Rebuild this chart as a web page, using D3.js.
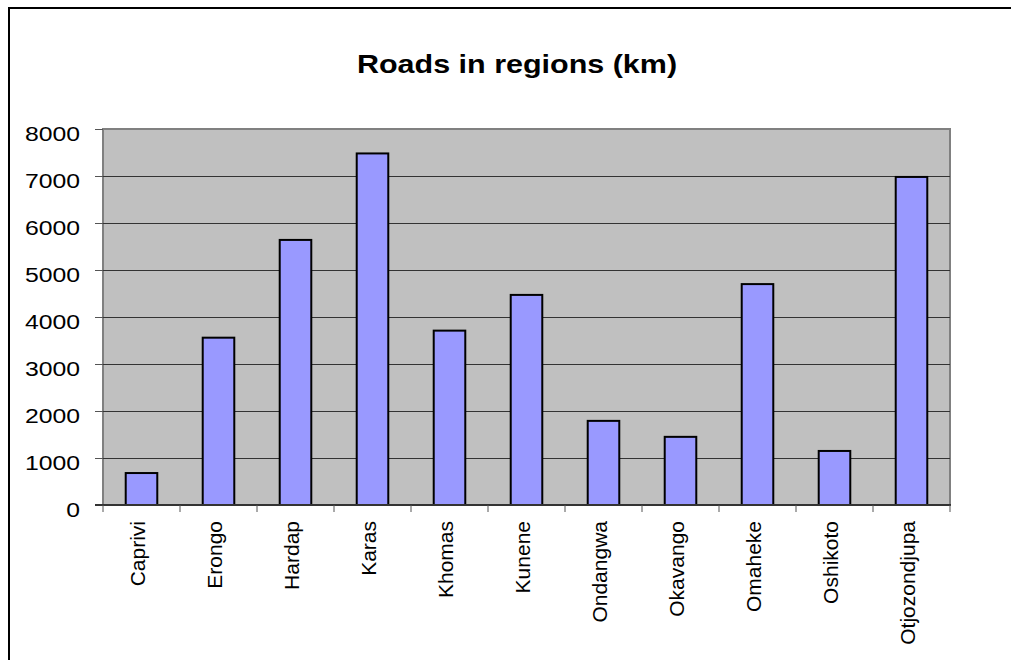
<!DOCTYPE html>
<html lang="en">
<head>
    <meta charset="UTF-8">
    <title>Roads in regions</title>
    <script src="https://d3js.org/d3.v7.min.js"></script>
    <style>
        body { margin: 0; background: #fff; }
        text { font-family: "Liberation Sans", Arial, sans-serif; }
    </style>
</head>
<body>
    <div id="chart"></div>
    <script>
        var regions = ['Caprivi', 'Erongo', 'Hardap', 'Karas', 'Khomas', 'Kunene',
                       'Ondangwa', 'Okavango', 'Omaheke', 'Oshikoto', 'Otjozondjupa'];
        var roadsKm = [680, 3560, 5640, 7480, 3710, 4470, 1790, 1450, 4700, 1150, 6980];
        var yTicks = [0, 1000, 2000, 3000, 4000, 5000, 6000, 7000, 8000];

        var width = 1011,
            height = 660;
        var plot = {left: 103, right: 950, top: 129, bottom: 505};
        var stretch = 1.18; // horizontal text in the picture is a little wider than normal

        var svg = d3.select('#chart')
            .append('svg')
            .attr('width', width)
            .attr('height', height);

        // outer frame (runs off the right and bottom)
        svg.append('rect')
            .attr('x', 9).attr('y', 8)
            .attr('width', 1200).attr('height', 800)
            .attr('fill', 'none')
            .attr('stroke', '#000')
            .attr('stroke-width', 2);

        svg.append('text')
            .attr('transform', 'translate(517,73) scale(1.22,1)')
            .attr('text-anchor', 'middle')
            .style('font-size', '25px')
            .style('font-weight', 'bold')
            .text('Roads in regions (km)');

        var x = d3.scaleBand()
            .domain(regions)
            .range([plot.left, plot.right])
            .padding(0);
        var y = d3.scaleLinear()
            .domain([0, 8000])
            .range([plot.bottom, plot.top]);

        // plot background
        svg.append('rect')
            .attr('x', plot.left).attr('y', plot.top)
            .attr('width', plot.right - plot.left)
            .attr('height', plot.bottom - plot.top)
            .attr('fill', '#c0c0c0')
            .attr('stroke', '#808080')
            .attr('stroke-width', 2);

        // gridlines
        svg.append('g')
            .selectAll('line')
            .data(yTicks.filter(d => d > 0 && d < 8000))
            .enter()
            .append('line')
            .attr('x1', plot.left).attr('x2', plot.right)
            .attr('y1', d => y(d) + 0.5).attr('y2', d => y(d) + 0.5)
            .attr('stroke', '#333')
            .attr('stroke-width', 1);

        // y ticks + labels
        var gy = svg.append('g');
        gy.selectAll('line')
            .data(yTicks)
            .enter()
            .append('line')
            .attr('x1', plot.left - 8).attr('x2', plot.left)
            .attr('y1', d => y(d) + 0.5).attr('y2', d => y(d) + 0.5)
            .attr('stroke', '#555');
        gy.selectAll('text')
            .data(yTicks)
            .enter()
            .append('text')
            .attr('transform', d => 'translate(80,' + (y(d) + 11.5) + ') scale(' + stretch + ',1)')
            .attr('text-anchor', 'end')
            .style('font-size', '21px')
            .text(d => d);

        // bars
        var barW = x.bandwidth() * 0.41;
        svg.append('g')
            .selectAll('rect')
            .data(roadsKm)
            .enter()
            .append('rect')
            .attr('x', (d, i) => x(regions[i]) + x.bandwidth() / 2 - barW / 2)
            .attr('y', d => y(d))
            .attr('width', barW)
            .attr('height', d => y(0) - y(d))
            .attr('fill', '#9999ff')
            .attr('stroke', '#000')
            .attr('stroke-width', 2);

        // x axis line
        svg.append('line')
            .attr('x1', plot.left - 8).attr('x2', plot.right + 1)
            .attr('y1', y(0)).attr('y2', y(0))
            .attr('stroke', '#333')
            .attr('stroke-width', 2);

        // x ticks
        var xTickPos = regions.map(r => x(r)).concat([plot.right]);
        svg.append('g')
            .selectAll('line')
            .data(xTickPos)
            .enter()
            .append('line')
            .attr('x1', d => d).attr('x2', d => d)
            .attr('y1', y(0)).attr('y2', y(0) + 7)
            .attr('stroke', '#555');

        // x labels, rotated, baseline just right of the bar centre
        svg.append('g')
            .selectAll('text')
            .data(regions)
            .enter()
            .append('text')
            .attr('transform', d => 'translate(' + (x(d) + x.bandwidth() / 2 + 3.5) + ',521) rotate(-90)')
            .attr('text-anchor', 'end')
            .style('font-size', '21px')
            .text(d => d);
    </script>
</body>
</html>
